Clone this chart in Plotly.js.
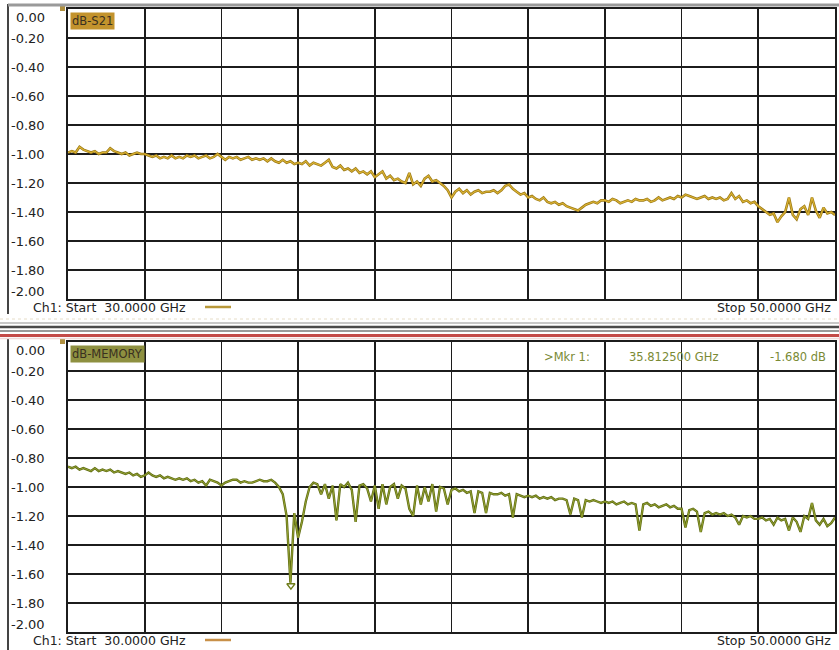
<!DOCTYPE html>
<html>
<head>
<meta charset="utf-8">
<script src="https://cdn.plot.ly/plotly-3.0.1.min.js"></script>
<style>html,body{margin:0;padding:0;background:#fff;}#chart{width:839px;height:650px;}</style>
</head>
<body>
<div id="chart"></div>
<script>
// ---- data ----
const sweepStartGHz = 30;
const sweepStopGHz = 50;
const yTickLabels = ["0.00","-0.20","-0.40","-0.60","-0.80","-1.00","-1.20","-1.40","-1.60","-1.80","-2.00"];

// dB-S21 trace (30.0 ... 50.0 GHz, 0.1 GHz step)
const s21Values = [
 -0.99,-0.98,-0.99,-0.95,-0.97,-0.98,-0.99,-0.98,-1.00,-0.99,
 -0.99,-0.96,-0.98,-0.99,-1.00,-0.99,-1.01,-1.00,-0.99,-1.00,
 -1.00,-1.01,-1.02,-1.01,-1.03,-1.02,-1.03,-1.01,-1.03,-1.02,
 -1.03,-1.01,-1.02,-1.01,-1.03,-1.02,-1.01,-1.03,-1.02,-1.00,
 -1.02,-1.04,-1.02,-1.03,-1.02,-1.04,-1.03,-1.02,-1.04,-1.03,
 -1.04,-1.03,-1.05,-1.03,-1.05,-1.06,-1.04,-1.06,-1.05,-1.07,
 -1.06,-1.07,-1.05,-1.08,-1.06,-1.07,-1.08,-1.06,-1.04,-1.09,
 -1.10,-1.08,-1.11,-1.10,-1.12,-1.10,-1.13,-1.12,-1.14,-1.12,
 -1.16,-1.14,-1.12,-1.17,-1.15,-1.18,-1.17,-1.19,-1.20,-1.13,
 -1.21,-1.19,-1.22,-1.17,-1.15,-1.19,-1.18,-1.20,-1.22,-1.25,
 -1.30,-1.26,-1.24,-1.27,-1.25,-1.28,-1.26,-1.25,-1.27,-1.26,
 -1.26,-1.25,-1.27,-1.25,-1.22,-1.21,-1.24,-1.26,-1.28,-1.27,
 -1.30,-1.29,-1.31,-1.32,-1.30,-1.33,-1.34,-1.33,-1.35,-1.34,
 -1.36,-1.37,-1.38,-1.39,-1.37,-1.35,-1.34,-1.33,-1.34,-1.32,
 -1.32,-1.33,-1.31,-1.32,-1.34,-1.33,-1.32,-1.33,-1.31,-1.32,
 -1.32,-1.31,-1.33,-1.32,-1.30,-1.32,-1.31,-1.30,-1.31,-1.29,
 -1.30,-1.28,-1.29,-1.30,-1.31,-1.30,-1.29,-1.31,-1.30,-1.31,
 -1.30,-1.32,-1.31,-1.27,-1.31,-1.29,-1.33,-1.32,-1.34,-1.33,
 -1.36,-1.38,-1.40,-1.42,-1.41,-1.47,-1.43,-1.40,-1.30,-1.42,
 -1.45,-1.38,-1.36,-1.42,-1.30,-1.39,-1.44,-1.37,-1.41,-1.40,
 -1.42
];

// dB-MEMORY trace (30.0 ... 50.0 GHz, 0.1 GHz step)
const memoryValues = [
 -0.86,-0.87,-0.86,-0.88,-0.87,-0.88,-0.89,-0.87,-0.89,-0.88,
 -0.89,-0.88,-0.90,-0.89,-0.90,-0.91,-0.90,-0.92,-0.91,-0.93,
 -0.92,-0.90,-0.92,-0.93,-0.92,-0.94,-0.93,-0.94,-0.95,-0.94,
 -0.95,-0.94,-0.96,-0.95,-0.97,-0.96,-0.99,-0.95,-0.96,-0.97,
 -0.99,-0.97,-0.96,-0.95,-0.95,-0.97,-0.96,-0.97,-0.97,-0.96,
 -0.95,-0.96,-0.96,-0.95,-0.97,-1.00,-1.05,-1.20,-1.66,-1.18,
 -1.35,-1.24,-1.10,-1.00,-0.97,-0.98,-1.05,-0.98,-1.08,-0.99,
 -1.23,-0.98,-1.00,-0.97,-1.02,-1.24,-0.99,-0.98,-1.01,-1.10,
 -0.99,-1.15,-0.98,-1.12,-1.00,-0.98,-1.08,-0.99,-1.01,-1.15,
 -1.20,-0.99,-1.12,-1.00,-1.10,-0.98,-1.17,-1.00,-1.01,-1.12,
 -1.02,-1.01,-1.03,-1.02,-1.04,-1.03,-1.18,-1.03,-1.04,-1.18,
 -1.04,-1.05,-1.05,-1.04,-1.06,-1.05,-1.21,-1.05,-1.06,-1.07,
 -1.06,-1.07,-1.06,-1.08,-1.07,-1.08,-1.07,-1.09,-1.08,-1.08,
 -1.09,-1.19,-1.08,-1.09,-1.21,-1.09,-1.10,-1.09,-1.10,-1.11,
 -1.10,-1.11,-1.10,-1.12,-1.11,-1.10,-1.12,-1.11,-1.12,-1.30,
 -1.12,-1.11,-1.13,-1.12,-1.14,-1.13,-1.12,-1.14,-1.13,-1.15,
 -1.15,-1.28,-1.16,-1.15,-1.17,-1.31,-1.18,-1.17,-1.19,-1.18,
 -1.19,-1.18,-1.20,-1.19,-1.21,-1.26,-1.20,-1.21,-1.20,-1.22,
 -1.22,-1.21,-1.23,-1.22,-1.26,-1.21,-1.23,-1.22,-1.30,-1.21,
 -1.24,-1.31,-1.20,-1.22,-1.11,-1.23,-1.26,-1.22,-1.27,-1.25,
 -1.21
];

const markerFreqGHz = 35.8125;
const markerValueDb = -1.68;
const markerLabels = [">Mkr 1:", "35.812500 GHz", "-1.680 dB"];
const startLabel = "Ch1: Start  30.0000 GHz";
const stopLabel = "Stop 50.0000 GHz";
const traceNames = ["dB-S21", "dB-MEMORY"];

// ---- build ----
const n = s21Values.length;
const freqs = s21Values.map((_, i) => sweepStartGHz + (sweepStopGHz - sweepStartGHz) * i / (n - 1));

const W = 839, H = 650;
const px = x => x / W;
const py = y => 1 - y / H;
const FONT = "DejaVu Sans";
const gridCol = "#1c1c1c";

const panels = [
  {top: 9, bottom: 299, xa: "x", ya: "y"},
  {top: 342, bottom: 632, xa: "x2", ya: "y2"}
];

function xAx(anchor) {
  return {domain: [px(68), px(835)], range: [sweepStartGHz, sweepStopGHz], tick0: sweepStartGHz, dtick: 2,
    showgrid: true, gridcolor: gridCol, gridwidth: 1.6, showline: true, mirror: true, linecolor: gridCol,
    linewidth: 1.6, showticklabels: false, ticks: "", zeroline: false, anchor: anchor, fixedrange: true};
}
function yAx(p, anchor) {
  return {domain: [py(p.bottom), py(p.top)], range: [-2, 0], tick0: 0, dtick: 0.2,
    showgrid: true, gridcolor: gridCol, gridwidth: 1.6, showline: true, mirror: true, linecolor: gridCol,
    linewidth: 1.6, showticklabels: false, ticks: "", zeroline: false, anchor: anchor, fixedrange: true};
}

const traces = [
  {x: freqs, y: s21Values, xaxis: "x", yaxis: "y", mode: "lines",
   line: {color: "#9c7a16", width: 2.6}, hoverinfo: "skip"},
  {x: freqs, y: s21Values, xaxis: "x", yaxis: "y", mode: "lines",
   line: {color: "#dcb434", width: 1.1}, hoverinfo: "skip"},
  {x: freqs, y: memoryValues, xaxis: "x2", yaxis: "y2", mode: "lines",
   line: {color: "#5e6c12", width: 2.4}, hoverinfo: "skip"},
  {x: freqs, y: memoryValues, xaxis: "x2", yaxis: "y2", mode: "lines",
   line: {color: "#95a232", width: 1.0}, hoverinfo: "skip"},
  {x: [markerFreqGHz], y: [markerValueDb], xaxis: "x2", yaxis: "y2", mode: "markers",
   marker: {symbol: "triangle-down-open", size: 7, color: "#6f7d1a", line: {width: 1.5, color: "#6f7d1a"}}, hoverinfo: "skip"}
];

const annotations = [];
const shapes = [];

panels.forEach((p, k) => {
  // y tick labels
  yTickLabels.forEach(t => {
    const v = parseFloat(t);
    const yv = Math.max(Math.min(v, -0.062), -1.945);
    annotations.push({xref: "paper", yref: p.ya, x: px(47), y: yv, xanchor: "right", yanchor: "middle",
      text: t, showarrow: false, font: {family: FONT, size: 13, color: "#222"}});
  });
  // trace name box
  annotations.push({xref: "paper", yref: "paper", x: px(70), y: py(p.top + 3), xanchor: "left", yanchor: "top",
    text: traceNames[k], showarrow: false, bgcolor: k === 0 ? "#c3932d" : "#8e9040", borderpad: 1,
    font: {family: FONT, size: 11.5, color: "#3a3020"}});
  // start / stop
  const ty = p.bottom + 8;
  annotations.push({xref: "paper", yref: "paper", x: px(31), y: py(ty), xanchor: "left", yanchor: "middle",
    text: startLabel, showarrow: false, font: {family: FONT, size: 12.5, color: "#222"}});
  annotations.push({xref: "paper", yref: "paper", x: px(833), y: py(ty), xanchor: "right", yanchor: "middle",
    text: stopLabel, showarrow: false, font: {family: FONT, size: 12.5, color: "#222"}});
  shapes.push({type: "line", xref: "paper", yref: "paper", x0: px(205), x1: px(231), y0: py(ty), y1: py(ty),
    line: {color: k === 0 ? "#b8983a" : "#c89048", width: 2.5}});
  // small reference square at top-left corner
  shapes.push({type: "rect", xref: "paper", yref: "paper", x0: px(60), x1: px(65), y0: py(p.top - 3), y1: py(p.top + 2),
    line: {width: 0}, fillcolor: "#b09040"});
  // left frame line
  shapes.push({type: "line", xref: "paper", yref: "paper", x0: px(8), x1: px(8),
    y0: py(k === 0 ? 4 : 338), y1: py(k === 0 ? 314 : 650), line: {color: "#444", width: 2}});
});

// marker readout
const mkX = [542, 720, 828];
const mkAnchor = ["left", "right", "right"];
markerLabels.forEach((t, i) => {
  annotations.push({xref: "paper", yref: "paper", x: px(mkX[i]), y: py(357), xanchor: mkAnchor[i], yanchor: "middle",
    text: t, showarrow: false, font: {family: FONT, size: 11.5, color: "#7a8a34"}});
});

// top border and separator between panels
shapes.push({type: "line", xref: "paper", yref: "paper", x0: px(8), x1: 1, y0: py(5), y1: py(5), line: {color: "#9a9a9a", width: 3}});
shapes.push({type: "line", xref: "paper", yref: "paper", x0: 0, x1: 1, y0: py(319), y1: py(319), line: {color: "#e6ddc8", width: 1, dash: "dot"}});
shapes.push({type: "line", xref: "paper", yref: "paper", x0: 0, x1: 1, y0: py(323), y1: py(323), line: {color: "#c8c8c8", width: 2}});
shapes.push({type: "line", xref: "paper", yref: "paper", x0: 0, x1: 1, y0: py(327), y1: py(327), line: {color: "#4a4a4a", width: 2.5}});
shapes.push({type: "line", xref: "paper", yref: "paper", x0: 0, x1: 1, y0: py(331), y1: py(331), line: {color: "#9a9a9a", width: 2}});
shapes.push({type: "line", xref: "paper", yref: "paper", x0: 0, x1: 1, y0: py(335.5), y1: py(335.5), line: {color: "#c44a48", width: 3}});
shapes.push({type: "line", xref: "paper", yref: "paper", x0: 0, x1: 1, y0: py(338.5), y1: py(338.5), line: {color: "#f0d8d8", width: 1.5}});

const layout = {
  width: W, height: H, margin: {l: 0, r: 0, t: 0, b: 0},
  paper_bgcolor: "#ffffff", plot_bgcolor: "#ffffff", showlegend: false,
  xaxis: xAx("y"), yaxis: yAx(panels[0], "x"),
  xaxis2: xAx("y2"), yaxis2: yAx(panels[1], "x2"),
  annotations: annotations, shapes: shapes
};

Plotly.newPlot("chart", traces, layout, {displayModeBar: false, staticPlot: true});
</script>
</body>
</html>
